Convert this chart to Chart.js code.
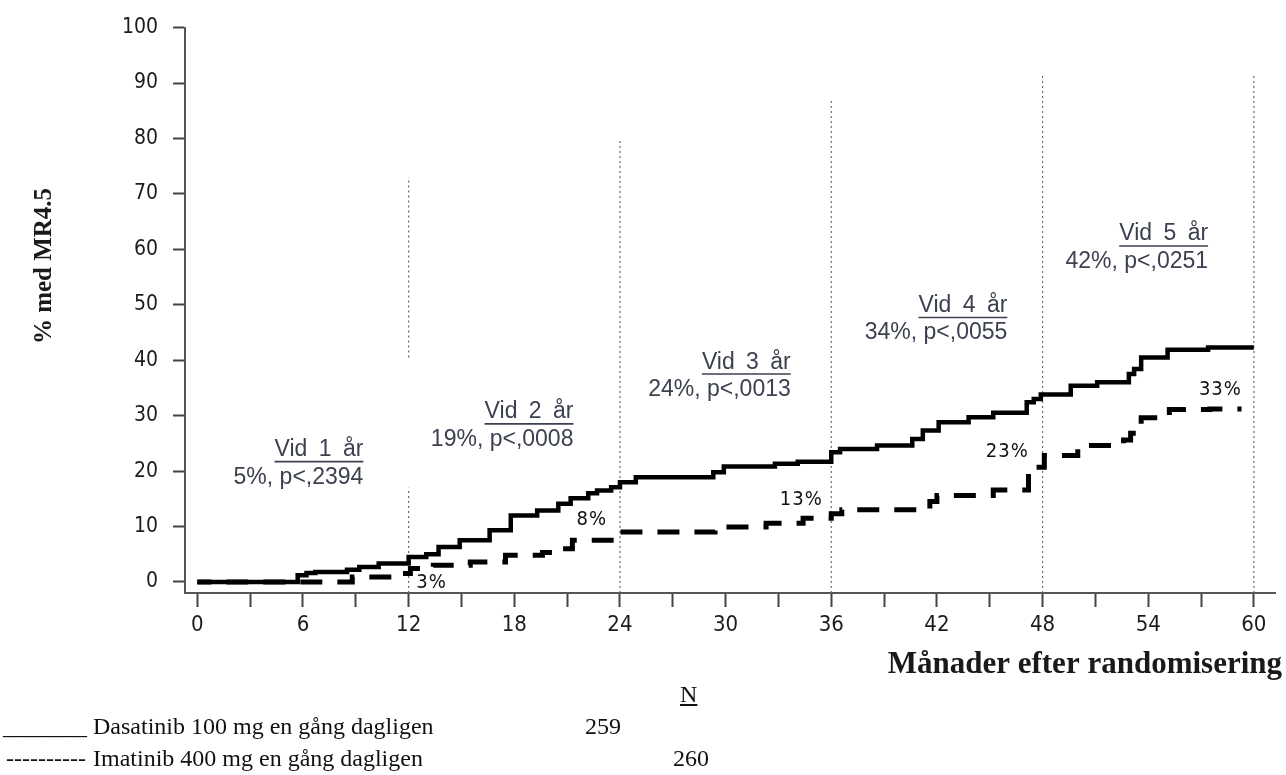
<!DOCTYPE html>
<html>
<head>
<meta charset="utf-8">
<script src="https://cdn.jsdelivr.net/npm/chart.js@4.4.1/dist/chart.umd.min.js"></script>
<style>
  body { margin: 0; background: #fff; }
  #wrap { position: relative; width: 1286px; height: 775px; overflow: hidden; }
  canvas { position: absolute; left: 0; top: 0; }
  .leg {
    position: absolute;
    font: 24px "Liberation Serif", "Times New Roman", serif;
    line-height: 24px;
    color: #111;
    white-space: pre;
  }
</style>
</head>
<body>
<div id="wrap">
  <canvas id="km" width="1286" height="775"></canvas>
  <div class="leg" style="left:680px; top:682px; text-decoration:underline;">N</div>
  <div class="leg" style="left:3px; top:714px;">_______</div>
  <div class="leg" style="left:93px; top:714px;">Dasatinib 100 mg en gång dagligen</div>
  <div class="leg" style="left:585px; top:714px;">259</div>
  <div class="leg" style="left:6px; top:746px;">----------</div>
  <div class="leg" style="left:93px; top:746px;">Imatinib 400 mg en gång dagligen</div>
  <div class="leg" style="left:673px; top:746px;">260</div>
</div>

<script>
// Dasatinib 100 mg - cumulative % with MR4.5 (step points: month, value)
const dasaMonths = [0, 5.7, 6.2, 6.7, 8.5, 9.2, 10.3, 12.0, 13.0, 13.7, 14.9, 16.6, 17.8, 19.3, 20.5, 21.2, 22.2, 22.7, 23.5, 24.0,
  24.9, 29.3, 29.9, 32.8, 34.1, 36.0, 36.5, 38.6, 40.6, 41.2, 42.1, 43.8, 45.2, 47.1, 47.5, 47.9, 49.6, 51.1, 52.9, 53.2,
  53.6, 55.1, 57.4, 60.0];
const dasaPct = [0, 1.2, 1.6, 1.8, 2.2, 2.7, 3.3, 4.5, 5.0, 6.3, 7.5, 9.3, 12.0, 12.9, 14.1, 15.1, 16.0, 16.5, 17.1, 18.0,
  18.9, 19.8, 20.8, 21.3, 21.7, 23.4, 24.0, 24.6, 25.8, 27.3, 28.8, 29.7, 30.5, 32.4, 33.0, 33.8, 35.4, 36.0, 37.5, 38.4,
  40.5, 41.9, 42.3, 42.3];

// Imatinib 400 mg
const imaMonths = [0, 8.8, 11.4, 12.1, 13.4, 15.5, 17.5, 19.6, 20.5, 21.3, 23.5, 29.4, 32.3, 34.4, 36.0, 36.6, 41.6, 42.0,
  45.2, 47.2, 47.6, 48.1, 50.0, 52.6, 53.0, 53.6, 55.2, 57.5, 59.3];
const imaPct = [0, 0.9, 1.5, 2.4, 3.0, 3.6, 4.8, 5.3, 6.0, 7.5, 9.0, 9.9, 10.6, 11.5, 12.3, 13.0, 14.5, 15.6,
  16.6, 19.0, 20.7, 22.8, 24.6, 25.6, 26.8, 29.6, 31.1, 31.2, 31.2];

// yearly reference lines (month, top of dotted line)
const refMonths = [12, 24, 36, 48, 60];
const refTops = [73, 80, 87, 91.7, 91.7];

// axis ticks
const xTicks = [0, 3, 6, 9, 12, 15, 18, 21, 24, 27, 30, 33, 36, 39, 42, 45, 48, 51, 54, 57, 60];
const xLabelEvery = 6;
const yTicks = [0, 10, 20, 30, 40, 50, 60, 70, 80, 90, 100];

// annotation texts
const yearTitles = ["Vid 1 år", "Vid 2 år", "Vid 3 år", "Vid 4 år", "Vid 5 år"];
const yearStats = ["5%, p<,2394", "19%, p<,0008", "24%, p<,0013", "34%, p<,0055", "42%, p<,0251"];
const yearAnchor = [[9.43, 22.7], [21.36, 29.5], [33.7, 38.5], [46.0, 48.7], [57.4, 61.6]]; // right edge, baseline

const imaTexts = ["3%", "8%", "13%", "23%", "33%"];
const imaAnchor = [[13.3, -0.2], [22.4, 11.2], [34.3, 14.8], [46.0, 23.4], [58.1, 34.7]]; // centre

const NARROW = '"Liberation Sans Narrow", "Arial Narrow", "DejaVu Sans Condensed", sans-serif';

function toPoints(xs, ys) {
  return xs.map((x, i) => ({ x: x, y: ys[i] }));
}

// dotted vertical lines, one dataset each
const refSets = refMonths.map((m, i) => {
  let pts = [{ x: m, y: -2 }, { x: m, y: refTops[i] }];
  if (m === 12) {
    // the 12 month line has a break in the source
    pts = [{ x: m, y: -2 }, { x: m, y: 17 }, { x: m, y: null }, { x: m, y: 40.5 }, { x: m, y: refTops[i] }];
  }
  return {
    data: pts,
    borderColor: "#6a6a6a",
    borderWidth: 1.2,
    borderDash: [2, 3],
    pointRadius: 0,
    spanGaps: false,
  };
});

const textPlugin = {
  id: "texts",
  afterDraw(chart) {
    const ctx = chart.ctx;
    const xs = chart.scales.x;
    const ys = chart.scales.y;

    // y axis title
    ctx.save();
    ctx.fillStyle = "#1a1a1a";
    ctx.font = 'bold 25px "Liberation Serif", "Times New Roman", serif';
    ctx.translate(51, 266);
    ctx.rotate(-Math.PI / 2);
    ctx.textAlign = "center";
    ctx.fillText("% med MR4.5", 0, 0);
    ctx.restore();

    // x axis title
    ctx.save();
    ctx.fillStyle = "#1a1a1a";
    ctx.font = 'bold 31px "Liberation Serif", "Times New Roman", serif';
    ctx.textAlign = "right";
    ctx.fillText("Månader efter randomisering", 1282, 673);
    ctx.restore();

    // yearly annotations
    ctx.save();
    ctx.fillStyle = "#3c4150";
    ctx.strokeStyle = "#3c4150";
    ctx.textAlign = "right";
    ctx.font = '23px "Liberation Sans", Arial, sans-serif';
    yearTitles.forEach((t, i) => {
      const px = xs.getPixelForValue(yearAnchor[i][0]);
      const py = ys.getPixelForValue(yearAnchor[i][1]);
      ctx.wordSpacing = "5px";
      ctx.fillText(t, px, py);
      const w = ctx.measureText(t).width;
      ctx.lineWidth = 1.6;
      ctx.beginPath();
      ctx.moveTo(px - w, py + 5.5);
      ctx.lineTo(px, py + 5.5);
      ctx.stroke();
      ctx.wordSpacing = "0px";
      ctx.fillText(yearStats[i], px, py + 27.5);
    });
    ctx.restore();

    // imatinib percentages
    ctx.save();
    ctx.fillStyle = "#111";
    ctx.font = "20px " + NARROW;
    ctx.textAlign = "center";
    ctx.textBaseline = "middle";
    ctx.letterSpacing = "1px";
    imaTexts.forEach((t, i) => {
      ctx.fillText(t, xs.getPixelForValue(imaAnchor[i][0]), ys.getPixelForValue(imaAnchor[i][1]));
    });
    ctx.restore();
  },
};

new Chart(document.getElementById("km"), {
  type: "line",
  data: {
    datasets: [
      {
        label: "Imatinib 400 mg en gång dagligen",
        data: toPoints(imaMonths, imaPct),
        stepped: true,
        borderColor: "#000",
        borderWidth: 5,
        borderDash: [22, 15],
        borderDashOffset: 8,
        pointRadius: 0,
      },
      {
        label: "Dasatinib 100 mg en gång dagligen",
        data: toPoints(dasaMonths, dasaPct),
        stepped: true,
        borderColor: "#000",
        borderWidth: 4.5,
        pointRadius: 0,
      },
      ...refSets,
    ],
  },
  options: {
    responsive: false,
    animation: false,
    layout: { padding: { top: 24, right: 11, left: 0, bottom: 0 } },
    plugins: { legend: { display: false }, tooltip: { enabled: false } },
    scales: {
      x: {
        type: "linear",
        min: -0.7,
        max: 61.2,
        afterBuildTicks(scale) {
          scale.ticks = xTicks.map((v) => ({ value: v }));
        },
        afterFit(scale) {
          scale.height = 182;
        },
        ticks: {
          autoSkip: false,
          maxRotation: 0,
          padding: 5,
          color: "#1c1c1c",
          font: { family: NARROW, size: 22 },
          callback: (v) => (v % xLabelEvery === 0 ? String(v) : ""),
        },
        grid: { drawOnChartArea: false, drawTicks: true, tickLength: 14, tickColor: "#444", tickWidth: 2 },
        border: { display: true, color: "#555", width: 2 },
      },
      y: {
        min: -2,
        max: 100,
        afterBuildTicks(scale) {
          scale.ticks = yTicks.map((v) => ({ value: v }));
        },
        afterFit(scale) {
          scale.width = 185;
        },
        ticks: {
          padding: 15,
          color: "#1c1c1c",
          font: { family: NARROW, size: 21 },
        },
        grid: { drawOnChartArea: false, drawTicks: true, tickLength: 12, tickColor: "#444", tickWidth: 2 },
        border: { display: true, color: "#555", width: 2 },
      },
    },
  },
  plugins: [textPlugin],
});
</script>
</body>
</html>
